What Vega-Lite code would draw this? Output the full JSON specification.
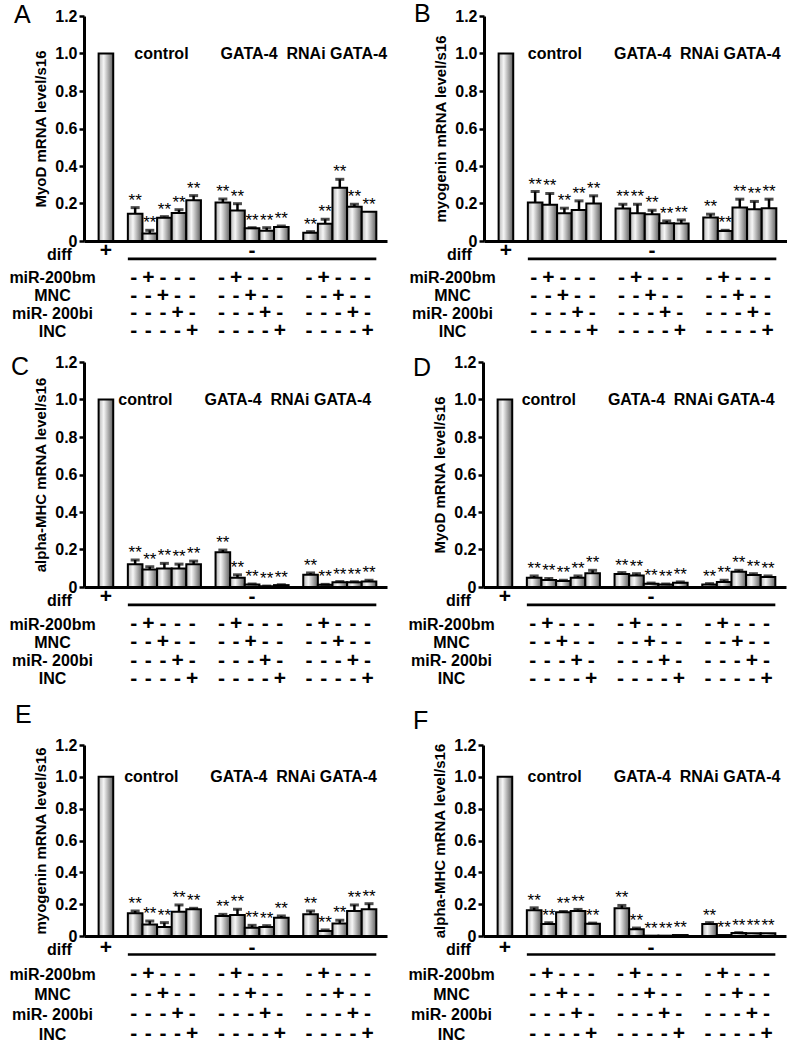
{
"$schema":"https://vega.github.io/schema/vega-lite/v6.json",
"padding":{"left":8,"top":2,"right":0,"bottom":0},
"config":{"font":"Liberation Sans","view":{"stroke":null},"axis":{"grid":false,"labelOverlap":false},"axisY":{"labelOverlap":false},"title":{"color":"black"}},
"datasets":{
"bars":[
{"panel":"A","slot":"diff","value":1,"upper":1,"star":""},
{"panel":"A","slot":"c1","value":0.146,"upper":0.178,"star":"**"},
{"panel":"A","slot":"c2","value":0.040,"upper":0.057,"star":"**"},
{"panel":"A","slot":"c3","value":0.124,"upper":0.130,"star":"**"},
{"panel":"A","slot":"c4","value":0.149,"upper":0.167,"star":"**"},
{"panel":"A","slot":"c5","value":0.217,"upper":0.242,"star":"**"},
{"panel":"A","slot":"g1","value":0.206,"upper":0.224,"star":"**"},
{"panel":"A","slot":"g2","value":0.163,"upper":0.199,"star":"**"},
{"panel":"A","slot":"g3","value":0.068,"upper":0.071,"star":"**"},
{"panel":"A","slot":"g4","value":0.055,"upper":0.071,"star":"**"},
{"panel":"A","slot":"g5","value":0.075,"upper":0.080,"star":"**"},
{"panel":"A","slot":"r1","value":0.044,"upper":0.050,"star":"**"},
{"panel":"A","slot":"r2","value":0.092,"upper":0.116,"star":"**"},
{"panel":"A","slot":"r3","value":0.284,"upper":0.329,"star":"**"},
{"panel":"A","slot":"r4","value":0.183,"upper":0.196,"star":"**"},
{"panel":"A","slot":"r5","value":0.156,"upper":0.156,"star":"**"},
{"panel":"B","slot":"diff","value":1,"upper":1,"star":""},
{"panel":"B","slot":"c1","value":0.205,"upper":0.264,"star":"**"},
{"panel":"B","slot":"c2","value":0.193,"upper":0.254,"star":"**"},
{"panel":"B","slot":"c3","value":0.148,"upper":0.175,"star":"**"},
{"panel":"B","slot":"c4","value":0.166,"upper":0.214,"star":"**"},
{"panel":"B","slot":"c5","value":0.200,"upper":0.241,"star":"**"},
{"panel":"B","slot":"g1","value":0.173,"upper":0.196,"star":"**"},
{"panel":"B","slot":"g2","value":0.148,"upper":0.196,"star":"**"},
{"panel":"B","slot":"g3","value":0.143,"upper":0.164,"star":"**"},
{"panel":"B","slot":"g4","value":0.095,"upper":0.107,"star":"**"},
{"panel":"B","slot":"g5","value":0.093,"upper":0.112,"star":"**"},
{"panel":"B","slot":"r1","value":0.125,"upper":0.143,"star":"**"},
{"panel":"B","slot":"r2","value":0.054,"upper":0.057,"star":"**"},
{"panel":"B","slot":"r3","value":0.179,"upper":0.223,"star":"**"},
{"panel":"B","slot":"r4","value":0.170,"upper":0.211,"star":"**"},
{"panel":"B","slot":"r5","value":0.175,"upper":0.223,"star":"**"},
{"panel":"C","slot":"diff","value":1,"upper":1,"star":""},
{"panel":"C","slot":"c1","value":0.122,"upper":0.144,"star":"**"},
{"panel":"C","slot":"c2","value":0.093,"upper":0.108,"star":"**"},
{"panel":"C","slot":"c3","value":0.099,"upper":0.126,"star":"**"},
{"panel":"C","slot":"c4","value":0.099,"upper":0.122,"star":"**"},
{"panel":"C","slot":"c5","value":0.122,"upper":0.138,"star":"**"},
{"panel":"C","slot":"g1","value":0.185,"upper":0.197,"star":"**"},
{"panel":"C","slot":"g2","value":0.050,"upper":0.065,"star":"**"},
{"panel":"C","slot":"g3","value":0.014,"upper":0.016,"star":"**"},
{"panel":"C","slot":"g4","value":0.004,"upper":0.005,"star":"**"},
{"panel":"C","slot":"g5","value":0.010,"upper":0.012,"star":"**"},
{"panel":"C","slot":"r1","value":0.066,"upper":0.075,"star":"**"},
{"panel":"C","slot":"r2","value":0.012,"upper":0.014,"star":"**"},
{"panel":"C","slot":"r3","value":0.025,"upper":0.029,"star":"**"},
{"panel":"C","slot":"r4","value":0.025,"upper":0.028,"star":"**"},
{"panel":"C","slot":"r5","value":0.029,"upper":0.036,"star":"**"},
{"panel":"D","slot":"diff","value":1,"upper":1,"star":""},
{"panel":"D","slot":"c1","value":0.050,"upper":0.059,"star":"**"},
{"panel":"D","slot":"c2","value":0.037,"upper":0.046,"star":"**"},
{"panel":"D","slot":"c3","value":0.032,"upper":0.036,"star":"**"},
{"panel":"D","slot":"c4","value":0.050,"upper":0.059,"star":"**"},
{"panel":"D","slot":"c5","value":0.073,"upper":0.089,"star":"**"},
{"panel":"D","slot":"g1","value":0.070,"upper":0.077,"star":"**"},
{"panel":"D","slot":"g2","value":0.061,"upper":0.071,"star":"**"},
{"panel":"D","slot":"g3","value":0.018,"upper":0.021,"star":"**"},
{"panel":"D","slot":"g4","value":0.014,"upper":0.016,"star":"**"},
{"panel":"D","slot":"g5","value":0.023,"upper":0.027,"star":"**"},
{"panel":"D","slot":"r1","value":0.014,"upper":0.018,"star":"**"},
{"panel":"D","slot":"r2","value":0.027,"upper":0.036,"star":"**"},
{"panel":"D","slot":"r3","value":0.082,"upper":0.089,"star":"**"},
{"panel":"D","slot":"r4","value":0.064,"upper":0.071,"star":"**"},
{"panel":"D","slot":"r5","value":0.053,"upper":0.059,"star":"**"},
{"panel":"E","slot":"diff","value":1,"upper":1,"star":""},
{"panel":"E","slot":"c1","value":0.143,"upper":0.157,"star":"**"},
{"panel":"E","slot":"c2","value":0.073,"upper":0.094,"star":"**"},
{"panel":"E","slot":"c3","value":0.057,"upper":0.084,"star":"**"},
{"panel":"E","slot":"c4","value":0.153,"upper":0.195,"star":"**"},
{"panel":"E","slot":"c5","value":0.168,"upper":0.174,"star":"**"},
{"panel":"E","slot":"g1","value":0.126,"upper":0.136,"star":"**"},
{"panel":"E","slot":"g2","value":0.132,"upper":0.168,"star":"**"},
{"panel":"E","slot":"g3","value":0.052,"upper":0.067,"star":"**"},
{"panel":"E","slot":"g4","value":0.057,"upper":0.065,"star":"**"},
{"panel":"E","slot":"g5","value":0.115,"upper":0.126,"star":"**"},
{"panel":"E","slot":"r1","value":0.136,"upper":0.157,"star":"**"},
{"panel":"E","slot":"r2","value":0.031,"upper":0.038,"star":"**"},
{"panel":"E","slot":"r3","value":0.078,"upper":0.099,"star":"**"},
{"panel":"E","slot":"r4","value":0.157,"upper":0.195,"star":"**"},
{"panel":"E","slot":"r5","value":0.168,"upper":0.203,"star":"**"},
{"panel":"F","slot":"diff","value":1,"upper":1,"star":""},
{"panel":"F","slot":"c1","value":0.161,"upper":0.177,"star":"**"},
{"panel":"F","slot":"c2","value":0.075,"upper":0.084,"star":"**"},
{"panel":"F","slot":"c3","value":0.150,"upper":0.154,"star":"**"},
{"panel":"F","slot":"c4","value":0.157,"upper":0.167,"star":"**"},
{"panel":"F","slot":"c5","value":0.077,"upper":0.081,"star":"**"},
{"panel":"F","slot":"g1","value":0.175,"upper":0.192,"star":"**"},
{"panel":"F","slot":"g2","value":0.042,"upper":0.050,"star":"**"},
{"panel":"F","slot":"g3","value":0.002,"upper":0.002,"star":"**"},
{"panel":"F","slot":"g4","value":0.002,"upper":0.002,"star":"**"},
{"panel":"F","slot":"g5","value":0.006,"upper":0.006,"star":"**"},
{"panel":"F","slot":"r1","value":0.075,"upper":0.084,"star":"**"},
{"panel":"F","slot":"r2","value":0.006,"upper":0.006,"star":"**"},
{"panel":"F","slot":"r3","value":0.019,"upper":0.021,"star":"**"},
{"panel":"F","slot":"r4","value":0.017,"upper":0.017,"star":"**"},
{"panel":"F","slot":"r5","value":0.017,"upper":0.017,"star":"**"}
],
"labels":[
{"panel":"A","label":"control","slot":"c3"},{"panel":"A","label":"GATA-4","slot":"g3"},{"panel":"A","label":"RNAi GATA-4","slot":"r3"},
{"panel":"B","label":"control","slot":"c2"},{"panel":"B","label":"GATA-4","slot":"g2"},{"panel":"B","label":"RNAi GATA-4","slot":"r2"},
{"panel":"C","label":"control","slot":"c2"},{"panel":"C","label":"GATA-4","slot":"g2"},{"panel":"C","label":"RNAi GATA-4","slot":"r2"},
{"panel":"D","label":"control","slot":"c2"},{"panel":"D","label":"GATA-4","slot":"g2"},{"panel":"D","label":"RNAi GATA-4","slot":"r2"},
{"panel":"E","label":"control","slot":"c2"},{"panel":"E","label":"GATA-4","slot":"g2"},{"panel":"E","label":"RNAi GATA-4","slot":"r2"},
{"panel":"F","label":"control","slot":"c2"},{"panel":"F","label":"GATA-4","slot":"g2"},{"panel":"F","label":"RNAi GATA-4","slot":"r2"}
],
"diffrow":[{"slot":"diff","row":"diff","sign":"+"},{"slot":"g3","row":"diff","sign":"-"}],
"line":[{"from":"c1","to":"r5","row":"diff"}],
"table":[
{"row":"miR-200bm","slot":"c1","sign":"-"},{"row":"miR-200bm","slot":"c2","sign":"+"},{"row":"miR-200bm","slot":"c3","sign":"-"},{"row":"miR-200bm","slot":"c4","sign":"-"},{"row":"miR-200bm","slot":"c5","sign":"-"},
{"row":"miR-200bm","slot":"g1","sign":"-"},{"row":"miR-200bm","slot":"g2","sign":"+"},{"row":"miR-200bm","slot":"g3","sign":"-"},{"row":"miR-200bm","slot":"g4","sign":"-"},{"row":"miR-200bm","slot":"g5","sign":"-"},
{"row":"miR-200bm","slot":"r1","sign":"-"},{"row":"miR-200bm","slot":"r2","sign":"+"},{"row":"miR-200bm","slot":"r3","sign":"-"},{"row":"miR-200bm","slot":"r4","sign":"-"},{"row":"miR-200bm","slot":"r5","sign":"-"},
{"row":"MNC","slot":"c1","sign":"-"},{"row":"MNC","slot":"c2","sign":"-"},{"row":"MNC","slot":"c3","sign":"+"},{"row":"MNC","slot":"c4","sign":"-"},{"row":"MNC","slot":"c5","sign":"-"},
{"row":"MNC","slot":"g1","sign":"-"},{"row":"MNC","slot":"g2","sign":"-"},{"row":"MNC","slot":"g3","sign":"+"},{"row":"MNC","slot":"g4","sign":"-"},{"row":"MNC","slot":"g5","sign":"-"},
{"row":"MNC","slot":"r1","sign":"-"},{"row":"MNC","slot":"r2","sign":"-"},{"row":"MNC","slot":"r3","sign":"+"},{"row":"MNC","slot":"r4","sign":"-"},{"row":"MNC","slot":"r5","sign":"-"},
{"row":"miR- 200bi","slot":"c1","sign":"-"},{"row":"miR- 200bi","slot":"c2","sign":"-"},{"row":"miR- 200bi","slot":"c3","sign":"-"},{"row":"miR- 200bi","slot":"c4","sign":"+"},{"row":"miR- 200bi","slot":"c5","sign":"-"},
{"row":"miR- 200bi","slot":"g1","sign":"-"},{"row":"miR- 200bi","slot":"g2","sign":"-"},{"row":"miR- 200bi","slot":"g3","sign":"-"},{"row":"miR- 200bi","slot":"g4","sign":"+"},{"row":"miR- 200bi","slot":"g5","sign":"-"},
{"row":"miR- 200bi","slot":"r1","sign":"-"},{"row":"miR- 200bi","slot":"r2","sign":"-"},{"row":"miR- 200bi","slot":"r3","sign":"-"},{"row":"miR- 200bi","slot":"r4","sign":"+"},{"row":"miR- 200bi","slot":"r5","sign":"-"},
{"row":"INC","slot":"c1","sign":"-"},{"row":"INC","slot":"c2","sign":"-"},{"row":"INC","slot":"c3","sign":"-"},{"row":"INC","slot":"c4","sign":"-"},{"row":"INC","slot":"c5","sign":"+"},
{"row":"INC","slot":"g1","sign":"-"},{"row":"INC","slot":"g2","sign":"-"},{"row":"INC","slot":"g3","sign":"-"},{"row":"INC","slot":"g4","sign":"-"},{"row":"INC","slot":"g5","sign":"+"},
{"row":"INC","slot":"r1","sign":"-"},{"row":"INC","slot":"r2","sign":"-"},{"row":"INC","slot":"r3","sign":"-"},{"row":"INC","slot":"r4","sign":"-"},{"row":"INC","slot":"r5","sign":"+"}
]
},
"spacing":14,
"vconcat":[
{"spacing":12,"vconcat":[
{"spacing":20,"hconcat":[
{"bounds":"flush","spacing":0,"vconcat":[
{"width":303,"height":225,
"title":{"text":"A","anchor":"start","frame":"group","fontSize":25,"fontWeight":"normal","baseline":"alphabetic","offset":0,"dx":-70,"dy":40},
"data":{"name":"bars"},"transform":[{"filter":"datum.panel == 'A'"}],
"encoding":{"x":{"field":"slot","type":"nominal","scale":{"type":"band","domain":["diff","s1","c1","c2","c3","c4","c5","s2","g1","g2","g3","g4","g5","s3","r1","r2","r3","r4","r5"],"paddingInner":0,"paddingOuter":0.865,"align":0.578},"axis":{"title":null,"labels":false,"ticks":false,"domainWidth":3,"domainColor":"black"}}},
"layer":[
{"mark":{"type":"bar","fill":{"gradient":"linear","x1":0,"y1":0,"x2":1,"y2":0,"stops":[{"offset":0,"color":"#b4b4b4"},{"offset":0.35,"color":"#f6f6f6"},{"offset":1,"color":"#5e5e5e"}]},"stroke":"black","strokeWidth":2},
"encoding":{"y":{"field":"value","type":"quantitative","scale":{"domain":[0,1.2]},"axis":{"title":"MyoD mRNA level/s16","values":[0,0.2,0.4,0.6,0.8,1,1.2],"tickCount":7,"labelOverlap":false,"labelExpr":"datum.value == 0 ? '0' : format(datum.value, '.1f')","domainWidth":3,"domainColor":"black","tickColor":"black","tickWidth":2.5,"tickSize":5,"labelFontSize":16,"labelFontWeight":"bold","labelColor":"black","labelPadding":2,"titleFontSize":15,"titleFontWeight":"bold","titleColor":"black","titlePadding":6}}}},
{"transform":[{"filter":"datum.upper > datum.value"}],"mark":{"type":"rule","color":"black","strokeWidth":2.5},"encoding":{"y":{"field":"value","type":"quantitative"},"y2":{"field":"upper"}}},
{"transform":[{"filter":"datum.upper > datum.value"}],"mark":{"type":"tick","orient":"horizontal","color":"black","size":9,"thickness":3},"encoding":{"y":{"field":"upper","type":"quantitative"}}},
{"transform":[{"filter":"datum.star != ''"}],"mark":{"type":"text","fontSize":17,"baseline":"alphabetic","dy":-2,"color":"black"},"encoding":{"y":{"field":"upper","type":"quantitative"},"text":{"field":"star"}}},
{"data":{"name":"labels"},"transform":[{"filter":"datum.panel == 'A'"}],"mark":{"type":"text","fontSize":16,"fontWeight":"bold","baseline":"middle","color":"black"},"encoding":{"x":{"field":"slot","type":"nominal","bandPosition":0.3},"y":{"datum":1.0},"text":{"field":"label"}}}
]},
{"width":303,"height":28,
"layer":[
{"data":{"name":"diffrow"},"mark":{"type":"text","fontSize":21,"fontWeight":"bold","baseline":"middle","color":"black"},
"encoding":{"x":{"field":"slot","type":"nominal","scale":{"type":"band","domain":["diff","s1","c1","c2","c3","c4","c5","s2","g1","g2","g3","g4","g5","s3","r1","r2","r3","r4","r5"],"paddingInner":0,"paddingOuter":0.865,"align":0.578},"axis":null},
"y":{"field":"row","type":"nominal","bandPosition":0.36,"scale":{"domain":["diff"],"paddingInner":0,"paddingOuter":0},"axis":{"title":null,"domain":false,"ticks":false,"tickSize":0,"labelAlign":"center","labelPadding":25,"labelFontSize":16,"labelFontWeight":"bold","labelColor":"black"}},
"text":{"field":"sign"}}},
{"data":{"name":"line"},"mark":{"type":"rule","color":"black","strokeWidth":2.7},
"encoding":{"x":{"field":"from","type":"nominal","bandPosition":0},"x2":{"field":"to","bandPosition":1},"y":{"field":"row","type":"nominal","bandPosition":0.64}}}
]},
{"width":303,"height":71,"data":{"name":"table"},
"mark":{"type":"text","fontSize":21,"fontWeight":"bold","baseline":"middle","color":"black"},
"encoding":{"x":{"field":"slot","type":"nominal","bandPosition":0.4,"scale":{"type":"band","domain":["diff","s1","c1","c2","c3","c4","c5","s2","g1","g2","g3","g4","g5","s3","r1","r2","r3","r4","r5"],"paddingInner":0,"paddingOuter":0.865,"align":0.578},"axis":null},
"y":{"field":"row","type":"nominal","scale":{"domain":["miR-200bm","MNC","miR- 200bi","INC"],"paddingInner":0,"paddingOuter":0},"axis":{"title":null,"domain":false,"ticks":false,"tickSize":0,"labelAlign":"center","labelPadding":32,"labelFontSize":16,"labelFontWeight":"bold","labelColor":"black"}},
"text":{"field":"sign"}}}
]},
{"bounds":"flush","spacing":0,"vconcat":[
{"width":303,"height":225,
"title":{"text":"B","anchor":"start","frame":"group","fontSize":25,"fontWeight":"normal","baseline":"alphabetic","offset":0,"dx":-70,"dy":39},
"data":{"name":"bars"},"transform":[{"filter":"datum.panel == 'B'"}],
"encoding":{"x":{"field":"slot","type":"nominal","scale":{"type":"band","domain":["diff","s1","c1","c2","c3","c4","c5","s2","g1","g2","g3","g4","g5","s3","r1","r2","r3","r4","r5"],"paddingInner":0,"paddingOuter":0.865,"align":0.578},"axis":{"title":null,"labels":false,"ticks":false,"domainWidth":3,"domainColor":"black"}}},
"layer":[
{"mark":{"type":"bar","fill":{"gradient":"linear","x1":0,"y1":0,"x2":1,"y2":0,"stops":[{"offset":0,"color":"#b4b4b4"},{"offset":0.35,"color":"#f6f6f6"},{"offset":1,"color":"#5e5e5e"}]},"stroke":"black","strokeWidth":2},
"encoding":{"y":{"field":"value","type":"quantitative","scale":{"domain":[0,1.2]},"axis":{"title":"myogenin mRNA level/s16","values":[0,0.2,0.4,0.6,0.8,1,1.2],"tickCount":7,"labelOverlap":false,"labelExpr":"datum.value == 0 ? '0' : format(datum.value, '.1f')","domainWidth":3,"domainColor":"black","tickColor":"black","tickWidth":2.5,"tickSize":5,"labelFontSize":16,"labelFontWeight":"bold","labelColor":"black","labelPadding":2,"titleFontSize":15,"titleFontWeight":"bold","titleColor":"black","titlePadding":6}}}},
{"transform":[{"filter":"datum.upper > datum.value"}],"mark":{"type":"rule","color":"black","strokeWidth":2.5},"encoding":{"y":{"field":"value","type":"quantitative"},"y2":{"field":"upper"}}},
{"transform":[{"filter":"datum.upper > datum.value"}],"mark":{"type":"tick","orient":"horizontal","color":"black","size":9,"thickness":3},"encoding":{"y":{"field":"upper","type":"quantitative"}}},
{"transform":[{"filter":"datum.star != ''"}],"mark":{"type":"text","fontSize":17,"baseline":"alphabetic","dy":-2,"color":"black"},"encoding":{"y":{"field":"upper","type":"quantitative"},"text":{"field":"star"}}},
{"data":{"name":"labels"},"transform":[{"filter":"datum.panel == 'B'"}],"mark":{"type":"text","fontSize":16,"fontWeight":"bold","baseline":"middle","color":"black"},"encoding":{"x":{"field":"slot","type":"nominal","bandPosition":0.85},"y":{"datum":1.0},"text":{"field":"label"}}}
]},
{"width":303,"height":28,
"layer":[
{"data":{"name":"diffrow"},"mark":{"type":"text","fontSize":21,"fontWeight":"bold","baseline":"middle","color":"black"},
"encoding":{"x":{"field":"slot","type":"nominal","scale":{"type":"band","domain":["diff","s1","c1","c2","c3","c4","c5","s2","g1","g2","g3","g4","g5","s3","r1","r2","r3","r4","r5"],"paddingInner":0,"paddingOuter":0.865,"align":0.578},"axis":null},
"y":{"field":"row","type":"nominal","bandPosition":0.36,"scale":{"domain":["diff"],"paddingInner":0,"paddingOuter":0},"axis":{"title":null,"domain":false,"ticks":false,"tickSize":0,"labelAlign":"center","labelPadding":25,"labelFontSize":16,"labelFontWeight":"bold","labelColor":"black"}},
"text":{"field":"sign"}}},
{"data":{"name":"line"},"mark":{"type":"rule","color":"black","strokeWidth":2.7},
"encoding":{"x":{"field":"from","type":"nominal","bandPosition":0},"x2":{"field":"to","bandPosition":1},"y":{"field":"row","type":"nominal","bandPosition":0.64}}}
]},
{"width":303,"height":71,"data":{"name":"table"},
"mark":{"type":"text","fontSize":21,"fontWeight":"bold","baseline":"middle","color":"black"},
"encoding":{"x":{"field":"slot","type":"nominal","bandPosition":0.4,"scale":{"type":"band","domain":["diff","s1","c1","c2","c3","c4","c5","s2","g1","g2","g3","g4","g5","s3","r1","r2","r3","r4","r5"],"paddingInner":0,"paddingOuter":0.865,"align":0.578},"axis":null},
"y":{"field":"row","type":"nominal","scale":{"domain":["miR-200bm","MNC","miR- 200bi","INC"],"paddingInner":0,"paddingOuter":0},"axis":{"title":null,"domain":false,"ticks":false,"tickSize":0,"labelAlign":"center","labelPadding":32,"labelFontSize":16,"labelFontWeight":"bold","labelColor":"black"}},
"text":{"field":"sign"}}}
]}
]},
{"spacing":20,"hconcat":[
{"bounds":"flush","spacing":0,"vconcat":[
{"width":303,"height":225,
"title":{"text":"C","anchor":"start","frame":"group","fontSize":25,"fontWeight":"normal","baseline":"alphabetic","offset":0,"dx":-73,"dy":46},
"data":{"name":"bars"},"transform":[{"filter":"datum.panel == 'C'"}],
"encoding":{"x":{"field":"slot","type":"nominal","scale":{"type":"band","domain":["diff","s1","c1","c2","c3","c4","c5","s2","g1","g2","g3","g4","g5","s3","r1","r2","r3","r4","r5"],"paddingInner":0,"paddingOuter":0.865,"align":0.578},"axis":{"title":null,"labels":false,"ticks":false,"domainWidth":3,"domainColor":"black"}}},
"layer":[
{"mark":{"type":"bar","fill":{"gradient":"linear","x1":0,"y1":0,"x2":1,"y2":0,"stops":[{"offset":0,"color":"#b4b4b4"},{"offset":0.35,"color":"#f6f6f6"},{"offset":1,"color":"#5e5e5e"}]},"stroke":"black","strokeWidth":2},
"encoding":{"y":{"field":"value","type":"quantitative","scale":{"domain":[0,1.2]},"axis":{"title":"alpha-MHC mRNA level/s16","values":[0,0.2,0.4,0.6,0.8,1,1.2],"tickCount":7,"labelOverlap":false,"labelExpr":"datum.value == 0 ? '0' : format(datum.value, '.1f')","domainWidth":3,"domainColor":"black","tickColor":"black","tickWidth":2.5,"tickSize":5,"labelFontSize":16,"labelFontWeight":"bold","labelColor":"black","labelPadding":2,"titleFontSize":15,"titleFontWeight":"bold","titleColor":"black","titlePadding":6}}}},
{"transform":[{"filter":"datum.upper > datum.value"}],"mark":{"type":"rule","color":"black","strokeWidth":2.5},"encoding":{"y":{"field":"value","type":"quantitative"},"y2":{"field":"upper"}}},
{"transform":[{"filter":"datum.upper > datum.value"}],"mark":{"type":"tick","orient":"horizontal","color":"black","size":9,"thickness":3},"encoding":{"y":{"field":"upper","type":"quantitative"}}},
{"transform":[{"filter":"datum.star != ''"}],"mark":{"type":"text","fontSize":17,"baseline":"alphabetic","dy":-2,"color":"black"},"encoding":{"y":{"field":"upper","type":"quantitative"},"text":{"field":"star"}}},
{"data":{"name":"labels"},"transform":[{"filter":"datum.panel == 'C'"}],"mark":{"type":"text","fontSize":16,"fontWeight":"bold","baseline":"middle","color":"black"},"encoding":{"x":{"field":"slot","type":"nominal","bandPosition":0.2},"y":{"datum":1.0},"text":{"field":"label"}}}
]},
{"width":303,"height":28,
"layer":[
{"data":{"name":"diffrow"},"mark":{"type":"text","fontSize":21,"fontWeight":"bold","baseline":"middle","color":"black"},
"encoding":{"x":{"field":"slot","type":"nominal","scale":{"type":"band","domain":["diff","s1","c1","c2","c3","c4","c5","s2","g1","g2","g3","g4","g5","s3","r1","r2","r3","r4","r5"],"paddingInner":0,"paddingOuter":0.865,"align":0.578},"axis":null},
"y":{"field":"row","type":"nominal","bandPosition":0.36,"scale":{"domain":["diff"],"paddingInner":0,"paddingOuter":0},"axis":{"title":null,"domain":false,"ticks":false,"tickSize":0,"labelAlign":"center","labelPadding":25,"labelFontSize":16,"labelFontWeight":"bold","labelColor":"black"}},
"text":{"field":"sign"}}},
{"data":{"name":"line"},"mark":{"type":"rule","color":"black","strokeWidth":2.7},
"encoding":{"x":{"field":"from","type":"nominal","bandPosition":0},"x2":{"field":"to","bandPosition":1},"y":{"field":"row","type":"nominal","bandPosition":0.64}}}
]},
{"width":303,"height":73,"data":{"name":"table"},
"mark":{"type":"text","fontSize":21,"fontWeight":"bold","baseline":"middle","color":"black"},
"encoding":{"x":{"field":"slot","type":"nominal","bandPosition":0.4,"scale":{"type":"band","domain":["diff","s1","c1","c2","c3","c4","c5","s2","g1","g2","g3","g4","g5","s3","r1","r2","r3","r4","r5"],"paddingInner":0,"paddingOuter":0.865,"align":0.578},"axis":null},
"y":{"field":"row","type":"nominal","scale":{"domain":["miR-200bm","MNC","miR- 200bi","INC"],"paddingInner":0,"paddingOuter":0},"axis":{"title":null,"domain":false,"ticks":false,"tickSize":0,"labelAlign":"center","labelPadding":32,"labelFontSize":16,"labelFontWeight":"bold","labelColor":"black"}},
"text":{"field":"sign"}}}
]},
{"bounds":"flush","spacing":0,"vconcat":[
{"width":303,"height":225,
"title":{"text":"D","anchor":"start","frame":"group","fontSize":25,"fontWeight":"normal","baseline":"alphabetic","offset":0,"dx":-70,"dy":47},
"data":{"name":"bars"},"transform":[{"filter":"datum.panel == 'D'"}],
"encoding":{"x":{"field":"slot","type":"nominal","scale":{"type":"band","domain":["diff","s1","c1","c2","c3","c4","c5","s2","g1","g2","g3","g4","g5","s3","r1","r2","r3","r4","r5"],"paddingInner":0,"paddingOuter":0.865,"align":0.578},"axis":{"title":null,"labels":false,"ticks":false,"domainWidth":3,"domainColor":"black"}}},
"layer":[
{"mark":{"type":"bar","fill":{"gradient":"linear","x1":0,"y1":0,"x2":1,"y2":0,"stops":[{"offset":0,"color":"#b4b4b4"},{"offset":0.35,"color":"#f6f6f6"},{"offset":1,"color":"#5e5e5e"}]},"stroke":"black","strokeWidth":2},
"encoding":{"y":{"field":"value","type":"quantitative","scale":{"domain":[0,1.2]},"axis":{"title":"MyoD mRNA level/s16","values":[0,0.2,0.4,0.6,0.8,1,1.2],"tickCount":7,"labelOverlap":false,"labelExpr":"datum.value == 0 ? '0' : format(datum.value, '.1f')","domainWidth":3,"domainColor":"black","tickColor":"black","tickWidth":2.5,"tickSize":5,"labelFontSize":16,"labelFontWeight":"bold","labelColor":"black","labelPadding":2,"titleFontSize":15,"titleFontWeight":"bold","titleColor":"black","titlePadding":6}}}},
{"transform":[{"filter":"datum.upper > datum.value"}],"mark":{"type":"rule","color":"black","strokeWidth":2.5},"encoding":{"y":{"field":"value","type":"quantitative"},"y2":{"field":"upper"}}},
{"transform":[{"filter":"datum.upper > datum.value"}],"mark":{"type":"tick","orient":"horizontal","color":"black","size":9,"thickness":3},"encoding":{"y":{"field":"upper","type":"quantitative"}}},
{"transform":[{"filter":"datum.star != ''"}],"mark":{"type":"text","fontSize":17,"baseline":"alphabetic","dy":-2,"color":"black"},"encoding":{"y":{"field":"upper","type":"quantitative"},"text":{"field":"star"}}},
{"data":{"name":"labels"},"transform":[{"filter":"datum.panel == 'D'"}],"mark":{"type":"text","fontSize":16,"fontWeight":"bold","baseline":"middle","color":"black"},"encoding":{"x":{"field":"slot","type":"nominal","bandPosition":0.5},"y":{"datum":1.0},"text":{"field":"label"}}}
]},
{"width":303,"height":28,
"layer":[
{"data":{"name":"diffrow"},"mark":{"type":"text","fontSize":21,"fontWeight":"bold","baseline":"middle","color":"black"},
"encoding":{"x":{"field":"slot","type":"nominal","scale":{"type":"band","domain":["diff","s1","c1","c2","c3","c4","c5","s2","g1","g2","g3","g4","g5","s3","r1","r2","r3","r4","r5"],"paddingInner":0,"paddingOuter":0.865,"align":0.578},"axis":null},
"y":{"field":"row","type":"nominal","bandPosition":0.36,"scale":{"domain":["diff"],"paddingInner":0,"paddingOuter":0},"axis":{"title":null,"domain":false,"ticks":false,"tickSize":0,"labelAlign":"center","labelPadding":25,"labelFontSize":16,"labelFontWeight":"bold","labelColor":"black"}},
"text":{"field":"sign"}}},
{"data":{"name":"line"},"mark":{"type":"rule","color":"black","strokeWidth":2.7},
"encoding":{"x":{"field":"from","type":"nominal","bandPosition":0},"x2":{"field":"to","bandPosition":1},"y":{"field":"row","type":"nominal","bandPosition":0.64}}}
]},
{"width":303,"height":73,"data":{"name":"table"},
"mark":{"type":"text","fontSize":21,"fontWeight":"bold","baseline":"middle","color":"black"},
"encoding":{"x":{"field":"slot","type":"nominal","bandPosition":0.4,"scale":{"type":"band","domain":["diff","s1","c1","c2","c3","c4","c5","s2","g1","g2","g3","g4","g5","s3","r1","r2","r3","r4","r5"],"paddingInner":0,"paddingOuter":0.865,"align":0.578},"axis":null},
"y":{"field":"row","type":"nominal","scale":{"domain":["miR-200bm","MNC","miR- 200bi","INC"],"paddingInner":0,"paddingOuter":0},"axis":{"title":null,"domain":false,"ticks":false,"tickSize":0,"labelAlign":"center","labelPadding":32,"labelFontSize":16,"labelFontWeight":"bold","labelColor":"black"}},
"text":{"field":"sign"}}}
]}
]}
]},
{"spacing":20,"hconcat":[
{"bounds":"flush","spacing":0,"vconcat":[
{"width":303,"height":191,
"title":{"text":"E","anchor":"start","frame":"group","fontSize":25,"fontWeight":"normal","baseline":"alphabetic","offset":0,"dx":-69,"dy":11},
"data":{"name":"bars"},"transform":[{"filter":"datum.panel == 'E'"}],
"encoding":{"x":{"field":"slot","type":"nominal","scale":{"type":"band","domain":["diff","s1","c1","c2","c3","c4","c5","s2","g1","g2","g3","g4","g5","s3","r1","r2","r3","r4","r5"],"paddingInner":0,"paddingOuter":0.865,"align":0.578},"axis":{"title":null,"labels":false,"ticks":false,"domainWidth":3,"domainColor":"black"}}},
"layer":[
{"mark":{"type":"bar","fill":{"gradient":"linear","x1":0,"y1":0,"x2":1,"y2":0,"stops":[{"offset":0,"color":"#b4b4b4"},{"offset":0.35,"color":"#f6f6f6"},{"offset":1,"color":"#5e5e5e"}]},"stroke":"black","strokeWidth":2},
"encoding":{"y":{"field":"value","type":"quantitative","scale":{"domain":[0,1.2]},"axis":{"title":"myogenin mRNA level/s16","values":[0,0.2,0.4,0.6,0.8,1,1.2],"tickCount":7,"labelOverlap":false,"labelExpr":"datum.value == 0 ? '0' : format(datum.value, '.1f')","domainWidth":3,"domainColor":"black","tickColor":"black","tickWidth":2.5,"tickSize":5,"labelFontSize":16,"labelFontWeight":"bold","labelColor":"black","labelPadding":2,"titleFontSize":15,"titleFontWeight":"bold","titleColor":"black","titlePadding":6}}}},
{"transform":[{"filter":"datum.upper > datum.value"}],"mark":{"type":"rule","color":"black","strokeWidth":2.5},"encoding":{"y":{"field":"value","type":"quantitative"},"y2":{"field":"upper"}}},
{"transform":[{"filter":"datum.upper > datum.value"}],"mark":{"type":"tick","orient":"horizontal","color":"black","size":9,"thickness":3},"encoding":{"y":{"field":"upper","type":"quantitative"}}},
{"transform":[{"filter":"datum.star != ''"}],"mark":{"type":"text","fontSize":17,"baseline":"alphabetic","dy":-2,"color":"black"},"encoding":{"y":{"field":"upper","type":"quantitative"},"text":{"field":"star"}}},
{"data":{"name":"labels"},"transform":[{"filter":"datum.panel == 'E'"}],"mark":{"type":"text","fontSize":16,"fontWeight":"bold","baseline":"middle","color":"black"},"encoding":{"x":{"field":"slot","type":"nominal","bandPosition":0.6},"y":{"datum":1.0},"text":{"field":"label"}}}
]},
{"width":303,"height":28,
"layer":[
{"data":{"name":"diffrow"},"mark":{"type":"text","fontSize":21,"fontWeight":"bold","baseline":"middle","color":"black"},
"encoding":{"x":{"field":"slot","type":"nominal","scale":{"type":"band","domain":["diff","s1","c1","c2","c3","c4","c5","s2","g1","g2","g3","g4","g5","s3","r1","r2","r3","r4","r5"],"paddingInner":0,"paddingOuter":0.865,"align":0.578},"axis":null},
"y":{"field":"row","type":"nominal","bandPosition":0.42,"scale":{"domain":["diff"],"paddingInner":0,"paddingOuter":0},"axis":{"title":null,"domain":false,"ticks":false,"tickSize":0,"labelAlign":"center","labelPadding":25,"labelFontSize":16,"labelFontWeight":"bold","labelColor":"black"}},
"text":{"field":"sign"}}},
{"data":{"name":"line"},"mark":{"type":"rule","color":"black","strokeWidth":2.7},
"encoding":{"x":{"field":"from","type":"nominal","bandPosition":0},"x2":{"field":"to","bandPosition":1},"y":{"field":"row","type":"nominal","bandPosition":0.66}}}
]},
{"width":303,"height":80,"data":{"name":"table"},
"mark":{"type":"text","fontSize":21,"fontWeight":"bold","baseline":"middle","color":"black"},
"encoding":{"x":{"field":"slot","type":"nominal","bandPosition":0.4,"scale":{"type":"band","domain":["diff","s1","c1","c2","c3","c4","c5","s2","g1","g2","g3","g4","g5","s3","r1","r2","r3","r4","r5"],"paddingInner":0,"paddingOuter":0.865,"align":0.578},"axis":null},
"y":{"field":"row","type":"nominal","scale":{"domain":["miR-200bm","MNC","miR- 200bi","INC"],"paddingInner":0,"paddingOuter":0},"axis":{"title":null,"domain":false,"ticks":false,"tickSize":0,"labelAlign":"center","labelPadding":32,"labelFontSize":16,"labelFontWeight":"bold","labelColor":"black"}},
"text":{"field":"sign"}}}
]},
{"bounds":"flush","spacing":0,"vconcat":[
{"width":303,"height":191,
"title":{"text":"F","anchor":"start","frame":"group","fontSize":25,"fontWeight":"normal","baseline":"alphabetic","offset":0,"dx":-70,"dy":17},
"data":{"name":"bars"},"transform":[{"filter":"datum.panel == 'F'"}],
"encoding":{"x":{"field":"slot","type":"nominal","scale":{"type":"band","domain":["diff","s1","c1","c2","c3","c4","c5","s2","g1","g2","g3","g4","g5","s3","r1","r2","r3","r4","r5"],"paddingInner":0,"paddingOuter":0.865,"align":0.578},"axis":{"title":null,"labels":false,"ticks":false,"domainWidth":3,"domainColor":"black"}}},
"layer":[
{"mark":{"type":"bar","fill":{"gradient":"linear","x1":0,"y1":0,"x2":1,"y2":0,"stops":[{"offset":0,"color":"#b4b4b4"},{"offset":0.35,"color":"#f6f6f6"},{"offset":1,"color":"#5e5e5e"}]},"stroke":"black","strokeWidth":2},
"encoding":{"y":{"field":"value","type":"quantitative","scale":{"domain":[0,1.2]},"axis":{"title":"alpha-MHC mRNA level/s16","values":[0,0.2,0.4,0.6,0.8,1,1.2],"tickCount":7,"labelOverlap":false,"labelExpr":"datum.value == 0 ? '0' : format(datum.value, '.1f')","domainWidth":3,"domainColor":"black","tickColor":"black","tickWidth":2.5,"tickSize":5,"labelFontSize":16,"labelFontWeight":"bold","labelColor":"black","labelPadding":2,"titleFontSize":15,"titleFontWeight":"bold","titleColor":"black","titlePadding":6}}}},
{"transform":[{"filter":"datum.upper > datum.value"}],"mark":{"type":"rule","color":"black","strokeWidth":2.5},"encoding":{"y":{"field":"value","type":"quantitative"},"y2":{"field":"upper"}}},
{"transform":[{"filter":"datum.upper > datum.value"}],"mark":{"type":"tick","orient":"horizontal","color":"black","size":9,"thickness":3},"encoding":{"y":{"field":"upper","type":"quantitative"}}},
{"transform":[{"filter":"datum.star != ''"}],"mark":{"type":"text","fontSize":17,"baseline":"alphabetic","dy":-2,"color":"black"},"encoding":{"y":{"field":"upper","type":"quantitative"},"text":{"field":"star"}}},
{"data":{"name":"labels"},"transform":[{"filter":"datum.panel == 'F'"}],"mark":{"type":"text","fontSize":16,"fontWeight":"bold","baseline":"middle","color":"black"},"encoding":{"x":{"field":"slot","type":"nominal","bandPosition":0.9},"y":{"datum":1.0},"text":{"field":"label"}}}
]},
{"width":303,"height":28,
"layer":[
{"data":{"name":"diffrow"},"mark":{"type":"text","fontSize":21,"fontWeight":"bold","baseline":"middle","color":"black"},
"encoding":{"x":{"field":"slot","type":"nominal","scale":{"type":"band","domain":["diff","s1","c1","c2","c3","c4","c5","s2","g1","g2","g3","g4","g5","s3","r1","r2","r3","r4","r5"],"paddingInner":0,"paddingOuter":0.865,"align":0.578},"axis":null},
"y":{"field":"row","type":"nominal","bandPosition":0.42,"scale":{"domain":["diff"],"paddingInner":0,"paddingOuter":0},"axis":{"title":null,"domain":false,"ticks":false,"tickSize":0,"labelAlign":"center","labelPadding":25,"labelFontSize":16,"labelFontWeight":"bold","labelColor":"black"}},
"text":{"field":"sign"}}},
{"data":{"name":"line"},"mark":{"type":"rule","color":"black","strokeWidth":2.7},
"encoding":{"x":{"field":"from","type":"nominal","bandPosition":0},"x2":{"field":"to","bandPosition":1},"y":{"field":"row","type":"nominal","bandPosition":0.66}}}
]},
{"width":303,"height":80,"data":{"name":"table"},
"mark":{"type":"text","fontSize":21,"fontWeight":"bold","baseline":"middle","color":"black"},
"encoding":{"x":{"field":"slot","type":"nominal","bandPosition":0.4,"scale":{"type":"band","domain":["diff","s1","c1","c2","c3","c4","c5","s2","g1","g2","g3","g4","g5","s3","r1","r2","r3","r4","r5"],"paddingInner":0,"paddingOuter":0.865,"align":0.578},"axis":null},
"y":{"field":"row","type":"nominal","scale":{"domain":["miR-200bm","MNC","miR- 200bi","INC"],"paddingInner":0,"paddingOuter":0},"axis":{"title":null,"domain":false,"ticks":false,"tickSize":0,"labelAlign":"center","labelPadding":32,"labelFontSize":16,"labelFontWeight":"bold","labelColor":"black"}},
"text":{"field":"sign"}}}
]}
]}
]
}
